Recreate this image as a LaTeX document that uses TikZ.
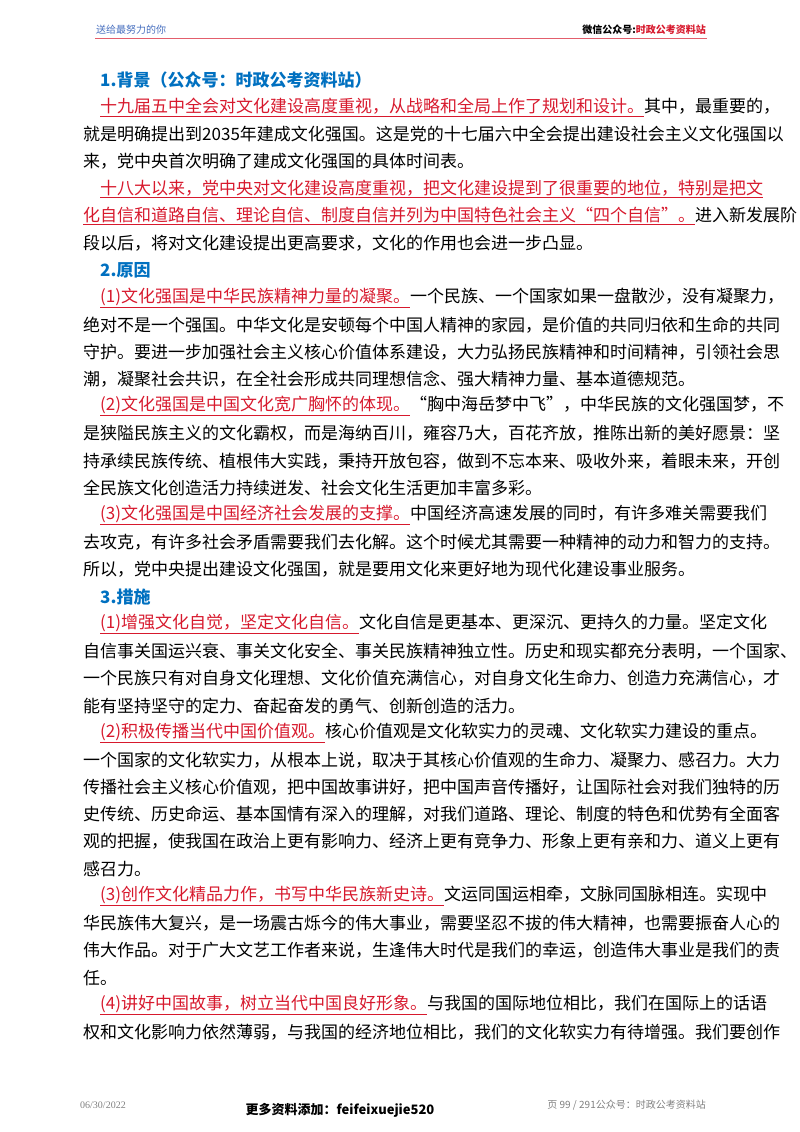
\documentclass[tikz,border=0pt]{standalone}
\usepackage{fontspec}
\setmainfont{Liberation Serif}
\newfontfamily\cjk{Noto Sans CJK SC}
\XeTeXlinebreaklocale "zh"
\XeTeXlinebreakskip=0pt plus 3pt
\definecolor{myred}{RGB}{215,25,45}
\definecolor{myblue}{RGB}{0,112,192}
\definecolor{hdblue}{RGB}{70,110,190}
\newcommand\R[1]{\textcolor{myred}{$\underline{\hbox{#1}}$}}
\newcommand\Lj[3]{\node[anchor=west,inner sep=0pt] (l#2) at (#1,{-(80+#2*27.2)}) {\makebox[\dimexpr706pt-#1pt\relax][s]{#3}};}
\newcommand\Ll[3]{\node[anchor=west,inner sep=0pt] (l#2) at (#1,{-(80+#2*27.2)}) {#3};}
\begin{document}
\begin{tikzpicture}[x=1pt,y=1pt,font=\cjk\fontsize{17}{20}\selectfont]
\useasboundingbox (0,0) rectangle (800,-1132);
\node[anchor=west,inner sep=0pt,font=\cjk\fontsize{10}{12}\selectfont,text=hdblue] (hl) at (96,-30) {送给最努力的你};
\node[anchor=east,inner sep=0pt,font=\cjk\bfseries\fontsize{10}{12}\selectfont] (hr) at (706,-30) {微信公众号:\textcolor{myred}{时政公考资料站}};
\draw[myred!70,line width=0.8pt] (95,-38) -- (707,-38);
\Ll{100}{0}{\textcolor{myblue}{\bfseries 1.背景（公众号：时政公考资料站）}}
\Lj{100}{1}{\R{十九届五中全会对文化建设高度重视，从战略和全局上作了规划和设计。}其中，最重要的，}
\Lj{83}{2}{就是明确提出到2035年建成文化强国。这是党的十七届六中全会提出建设社会主义文化强国以}
\Ll{83}{3}{来，党中央首次明确了建成文化强国的具体时间表。}
\Lj{100}{4}{\R{十八大以来，党中央对文化建设高度重视，把文化建设提到了很重要的地位，特别是把文}}
\Lj{83}{5}{\R{化自信和道路自信、理论自信、制度自信并列为中国特色社会主义“四个自信”。}进入新发展阶}
\Ll{83}{6}{段以后，将对文化建设提出更高要求，文化的作用也会进一步凸显。}
\Ll{100}{7}{\textcolor{myblue}{\bfseries 2.原因}}
\Lj{100}{8}{\R{(1)文化强国是中华民族精神力量的凝聚。}一个民族、一个国家如果一盘散沙，没有凝聚力，}
\Lj{83}{9}{绝对不是一个强国。中华文化是安顿每个中国人精神的家园，是价值的共同归依和生命的共同}
\Lj{83}{10}{守护。要进一步加强社会主义核心价值体系建设，大力弘扬民族精神和时间精神，引领社会思}
\Ll{83}{11}{潮，凝聚社会共识，在全社会形成共同理想信念、强大精神力量、基本道德规范。}
\Lj{100}{12}{\R{(2)文化强国是中国文化宽广胸怀的体现。}“胸中海岳梦中飞”，中华民族的文化强国梦，不}
\Lj{83}{13}{是狭隘民族主义的文化霸权，而是海纳百川，雍容乃大，百花齐放，推陈出新的美好愿景：坚}
\Lj{83}{14}{持承续民族传统、植根伟大实践，秉持开放包容，做到不忘本来、吸收外来，着眼未来，开创}
\Ll{83}{15}{全民族文化创造活力持续迸发、社会文化生活更加丰富多彩。}
\Lj{100}{16}{\R{(3)文化强国是中国经济社会发展的支撑。}中国经济高速发展的同时，有许多难关需要我们}
\Lj{83}{17}{去攻克，有许多社会矛盾需要我们去化解。这个时候尤其需要一种精神的动力和智力的支持。}
\Ll{83}{18}{所以，党中央提出建设文化强国，就是要用文化来更好地为现代化建设事业服务。}
\Ll{100}{19}{\textcolor{myblue}{\bfseries 3.措施}}
\Lj{100}{20}{\R{(1)增强文化自觉，坚定文化自信。}文化自信是更基本、更深沉、更持久的力量。坚定文化}
\Lj{83}{21}{自信事关国运兴衰、事关文化安全、事关民族精神独立性。历史和现实都充分表明，一个国家、}
\Lj{83}{22}{一个民族只有对自身文化理想、文化价值充满信心，对自身文化生命力、创造力充满信心，才}
\Ll{83}{23}{能有坚持坚守的定力、奋起奋发的勇气、创新创造的活力。}
\Lj{100}{24}{\R{(2)积极传播当代中国价值观。}核心价值观是文化软实力的灵魂、文化软实力建设的重点。}
\Lj{83}{25}{一个国家的文化软实力，从根本上说，取决于其核心价值观的生命力、凝聚力、感召力。大力}
\Lj{83}{26}{传播社会主义核心价值观，把中国故事讲好，把中国声音传播好，让国际社会对我们独特的历}
\Lj{83}{27}{史传统、历史命运、基本国情有深入的理解，对我们道路、理论、制度的特色和优势有全面客}
\Lj{83}{28}{观的把握，使我国在政治上更有影响力、经济上更有竞争力、形象上更有亲和力、道义上更有}
\Ll{83}{29}{感召力。}
\Lj{100}{30}{\R{(3)创作文化精品力作，书写中华民族新史诗。}文运同国运相牵，文脉同国脉相连。实现中}
\Lj{83}{31}{华民族伟大复兴，是一场震古烁今的伟大事业，需要坚忍不拔的伟大精神，也需要振奋人心的}
\Lj{83}{32}{伟大作品。对于广大文艺工作者来说，生逢伟大时代是我们的幸运，创造伟大事业是我们的责}
\Ll{83}{33}{任。}
\Lj{100}{34}{\R{(4)讲好中国故事，树立当代中国良好形象。}与我国的国际地位相比，我们在国际上的话语}
\Lj{83}{35}{权和文化影响力依然薄弱，与我国的经济地位相比，我们的文化软实力有待增强。我们要创作}
\node[anchor=west,inner sep=0pt,font=\fontsize{10}{12}\selectfont,text=gray] (fd) at (80,-1105) {06/30/2022};
\node[anchor=center,inner sep=0pt,font=\cjk\bfseries\fontsize{13}{15}\selectfont] (fm) at (340,-1110) {更多资料添加：feifeixuejie520};
\node[anchor=east,inner sep=0pt,font=\cjk\fontsize{10}{12}\selectfont,text=gray] (fr) at (706,-1105) {页 99 / 291公众号：时政公考资料站};
\end{tikzpicture}
\end{document}
